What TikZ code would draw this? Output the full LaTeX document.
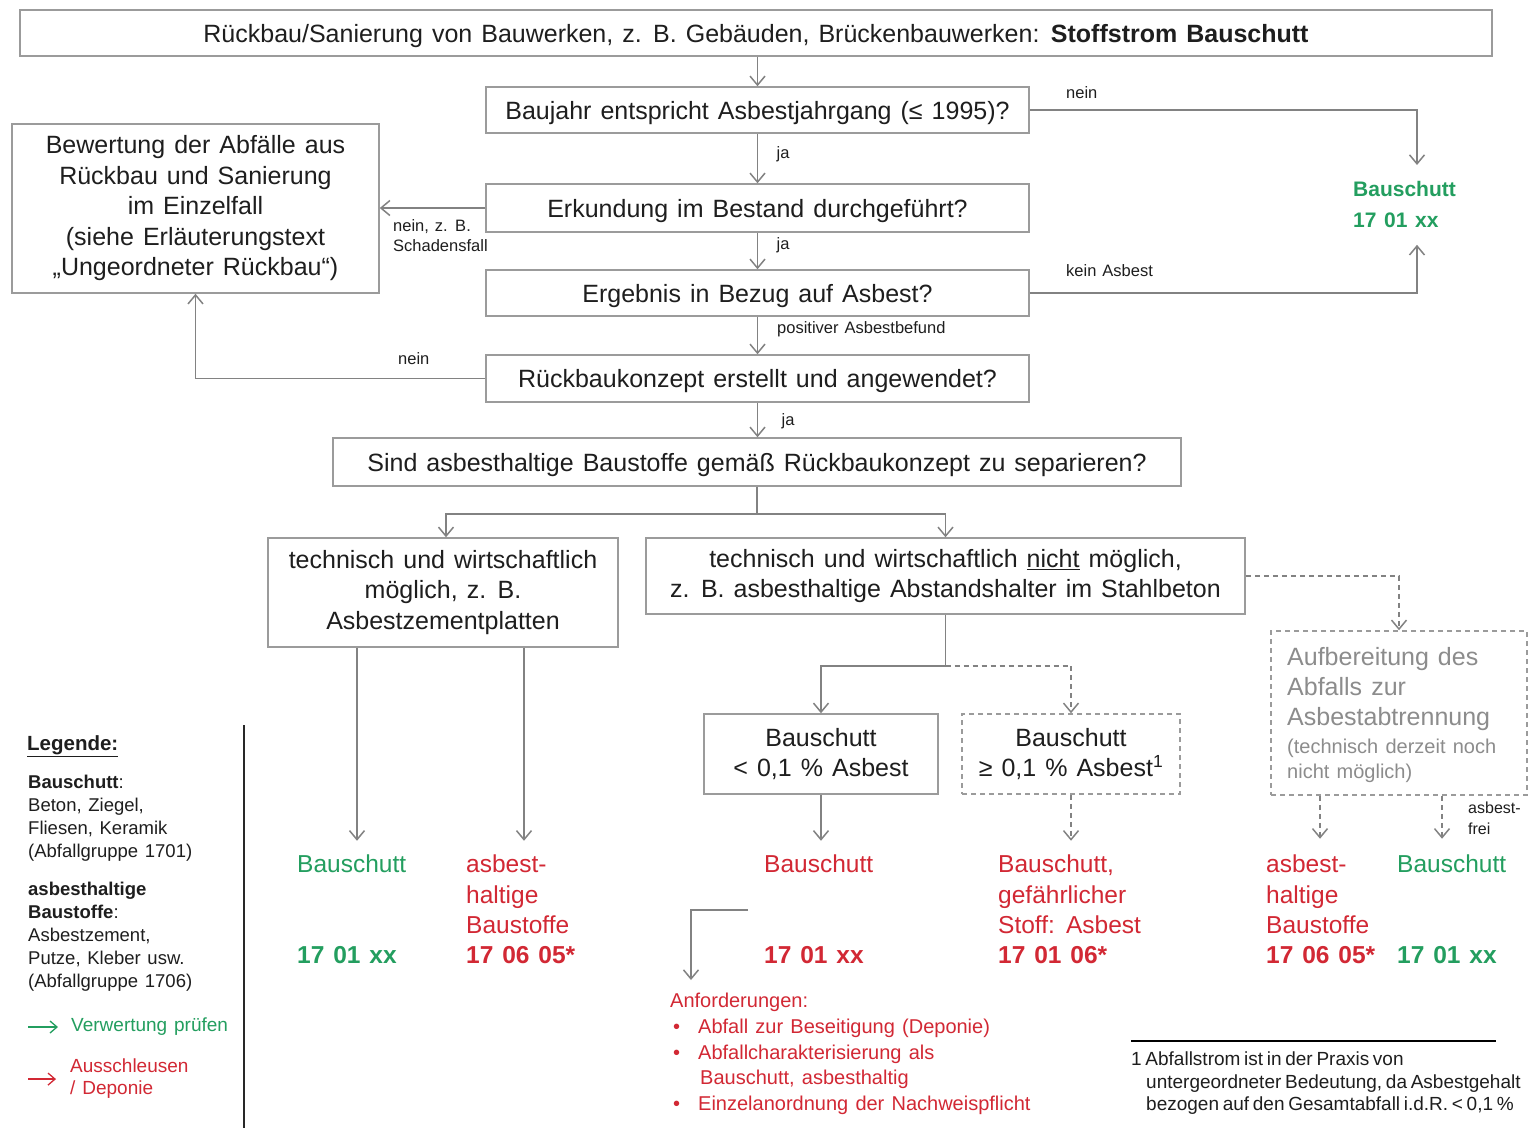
\documentclass[tikz,border=0pt]{standalone}
\usepackage{fontspec}
\setmainfont[WordSpace=1.3]{Liberation Sans}
\newfontfamily\tightfont[WordSpace=0.7]{Liberation Sans}
\usetikzlibrary{arrows.meta,calc}
\definecolor{boxgray}{RGB}{155,155,155}
\definecolor{linegray}{RGB}{130,130,130}
\definecolor{txt}{RGB}{30,30,30}
\definecolor{grn}{RGB}{35,158,95}
\definecolor{rd}{RGB}{210,40,52}
\definecolor{gtxt}{RGB}{140,140,140}
\definecolor{legline}{RGB}{40,40,40}
\begin{document}
\begin{tikzpicture}[x=1pt,y=-1pt,
  every node/.style={inner sep=0pt, text=txt},
  box/.style={draw=boxgray, line width=1.5pt, align=center, font=\fontsize{25}{30.5}\selectfont},
  sbox/.style={box, text height=18pt, text depth=0pt},
  dbox/.style={box, dash pattern=on 5pt off 4pt},
  arr/.style={draw=linegray, line width=1.5pt, -{Straight Barb[length=9pt,width=15pt,line width=1.5pt]}},
  darr/.style={arr, dash pattern=on 5pt off 4pt},
  lbl/.style={font=\fontsize{16.5}{20}\selectfont, align=left},
  outg/.style={anchor=north west, align=left, text=grn, font=\fontsize{24.5}{30.3}\selectfont},
  outr/.style={outg, text=rd},
  legtext/.style={anchor=north west, align=left, font=\fontsize{18.5}{23}\selectfont},
  ]
\fill[white] (0,0) rectangle (1534,1128);
\useasboundingbox (0,0) rectangle (1534,1128);

% main chain
\node[sbox, minimum width=1472pt, minimum height=46pt] (top) at (756,33) {Rückbau/Sanierung von Bauwerken, z. B. Gebäuden, Brückenbauwerken: \textbf{Stoffstrom Bauschutt}};
\node[sbox, minimum width=543pt, minimum height=46pt] (q1) at (757.5,110) {Baujahr entspricht Asbestjahrgang (≤ 1995)?};
\node[sbox, minimum width=543pt, minimum height=48pt] (q2) at (757.5,208) {Erkundung im Bestand durchgeführt?};
\node[sbox, minimum width=543pt, minimum height=46pt] (q3) at (757.5,293) {Ergebnis in Bezug auf Asbest?};
\node[sbox, minimum width=543pt, minimum height=47pt] (q4) at (757.5,378.5) {Rückbaukonzept erstellt und angewendet?};
\node[sbox, minimum width=848pt, minimum height=48pt] (q5) at (757,462) {Sind asbesthaltige Baustoffe gemäß Rückbaukonzept zu separieren?};
\node[box, minimum width=367pt, minimum height=169pt] (eval) at (195.5,208.5) {Bewertung der Abfälle aus\\Rückbau und Sanierung\\im Einzelfall\\(siehe Erläuterungstext\\„Ungeordneter Rückbau“)};
\node[anchor=north west, align=left, text=grn, font=\bfseries\fontsize{21}{31}\selectfont] (bs1) at (1353,181) {Bauschutt\\17 01 xx};

\node[box, minimum width=350pt, minimum height=109pt] (t1) at (443,592.5) {technisch und wirtschaftlich\\möglich, z. B.\\Asbestzementplatten};
\node[box, minimum width=599pt, minimum height=76pt] (t2) at (945.5,576) {technisch und wirtschaftlich \underline{nicht} möglich,\\z. B. asbesthaltige Abstandshalter im Stahlbeton};
\node[box, minimum width=234pt, minimum height=80pt] (b1) at (821,754) {Bauschutt\\< 0,1 \% Asbest};
\node[dbox, minimum width=218pt, minimum height=80pt] (b2) at (1071,754) {Bauschutt\\≥ 0,1 \% Asbest\textsuperscript{1}};
\node[dbox, minimum width=256pt, minimum height=164pt] (a1) at (1399,713) {};
\node[anchor=north west, align=left, text=gtxt, font=\fontsize{25}{30}\selectfont] (a1ta) at (1287,647) {Aufbereitung des\\Abfalls zur\\Asbestabtrennung};
\node[anchor=north west, align=left, text=gtxt, font=\fontsize{20}{25}\selectfont] (a1tb) at (1287,739) {(technisch derzeit noch\\nicht möglich)};

% labels
\node[lbl] (lja1) at (783,154) {ja};
\node[lbl] (lja2) at (783,245) {ja};
\node[lbl, anchor=west] (lpos) at (777,329) {positiver Asbestbefund};
\node[lbl] (lja3) at (788,421) {ja};
\node[lbl, anchor=west] (lnein1) at (1066,93) {nein};
\node[lbl, anchor=west] (lkein) at (1066,271) {kein Asbest};
\node[lbl, anchor=north west] (lschaden) at (393,219) {nein, z. B.\\Schadensfall};
\node[lbl, anchor=west] (lnein2) at (398,359) {nein};
\node[lbl, anchor=north west, font=\fontsize{16}{21}\selectfont] (lfrei) at (1468,802) {asbest-\\frei};

% outputs
\node[outg] (o1) at (297,855) {Bauschutt\\[60.6pt]\textbf{17 01 xx}};
\node[outr] (o2) at (466,855) {asbest-\\haltige\\Baustoffe\\\textbf{17 06 05*}};
\node[outr] (o3) at (764,855) {Bauschutt\\[60.6pt]\textbf{17 01 xx}};
\node[outr] (o4) at (998,855) {Bauschutt,\\gefährlicher\\Stoff: Asbest\\\textbf{17 01 06*}};
\node[outr] (o5) at (1266,855) {asbest-\\haltige\\Baustoffe\\\textbf{17 06 05*}};
\node[outg] (o6) at (1397,855) {Bauschutt\\[60.6pt]\textbf{17 01 xx}};

\node[anchor=north west, align=left, text=rd, font=\fontsize{20}{25.7}\selectfont] (req) at (670,993) {Anforderungen:\\
\makebox[28pt][l]{\hspace{3pt}\textbullet}Abfall zur Beseitigung (Deponie)\\
\makebox[28pt][l]{\hspace{3pt}\textbullet}Abfallcharakterisierung als\\
\hspace*{30pt}Bauschutt, asbesthaltig\\
\makebox[28pt][l]{\hspace{3pt}\textbullet}Einzelanordnung der Nachweispflicht};

% connectors
\draw[arr] (q1.north |- top.south) -- (q1.north);
\draw[arr] (q1.south) -- (q2.north);
\draw[arr] (q2.south) -- (q3.north);
\draw[arr] (q3.south) -- (q4.north);
\draw[arr] (q4.south) -- (q4.south |- q5.north);
\draw[arr] (q2.west) -- (q2.west -| eval.east);
\draw[arr] (q4.west) -| (eval.south);
\draw[arr] (q1.east) -| ($(bs1.north west)+(64pt,16pt)$);
\draw[arr] (q3.east) -| ($(bs1.south west)+(64pt,-17pt)$);
\draw[arr] (q5.south) -- ++(0,27) -| ([xshift=3pt]t1.north);
\draw[arr] (q5.south) -- ++(0,27) -| (t2.north);
\draw[arr] ([xshift=-86pt]t1.south) -- ++(0,193);
\draw[arr] ([xshift=81pt]t1.south) -- ++(0,193);
\draw[arr] (t2.south) -- ++(0,51) -| (b1.north);
\draw[darr] (t2.south) ++(0,51) -| (b2.north);
\draw[arr] (b1.south) -- ++(0,46);
\draw[darr] (b2.south) -- ++(0,46);
\draw[darr] (t2.east) -| (a1.north);
\draw[darr] ([xshift=-79pt]a1.south) -- ++(0,43);
\draw[darr] ([xshift=43pt]a1.south) -- ++(0,43);
\coordinate (bendstart) at (748,910);
\draw[arr] (bendstart) -| ($(req.north west)+(21pt,13pt)$);

% legend
\draw[legline, line width=1.5pt] (244,725) -- (244,1128);
\node[anchor=west, font=\bfseries\fontsize{20.5}{24}\selectfont] (legt) at (27,746) {\underline{Legende:}};
\node[legtext] (leg1) at (28,775) {\textbf{Bauschutt}:\\Beton, Ziegel,\\Fliesen, Keramik\\(Abfallgruppe 1701)};
\node[legtext] (leg2) at (28,882) {\textbf{asbesthaltige}\\\textbf{Baustoffe}:\\Asbestzement,\\Putze, Kleber usw.\\(Abfallgruppe 1706)};
\node[anchor=west, text=grn, font=\fontsize{19}{23}\selectfont] (legv) at (71,1027) {Verwertung prüfen};
\draw[draw=grn, line width=1.3pt, -{Straight Barb[length=7pt,width=12pt,line width=1.3pt]}] ([xshift=-43pt]legv.west) -- ([xshift=-13pt]legv.west);
\node[legtext, text=rd, font=\fontsize{19}{22}\selectfont] (legd) at (70,1059) {Ausschleusen\\/ Deponie};
\draw[draw=rd, line width=1.3pt, -{Straight Barb[length=7pt,width=12pt,line width=1.3pt]}] ([xshift=-42pt]legd.west) -- ([xshift=-14pt]legd.west);

% footnote
\draw[black, line width=1.2pt] (1131,1041) -- (1496,1041);
\node[anchor=north west, align=left, font=\tightfont\fontsize{19}{22.5}\selectfont] (fn) at (1131,1052) {1 Abfallstrom ist in der Praxis von\\\hspace*{15pt}untergeordneter Bedeutung, da Asbestgehalt\\\hspace*{15pt}bezogen auf den Gesamtabfall i.d.R. < 0,1 \%};
\end{tikzpicture}
\end{document}
